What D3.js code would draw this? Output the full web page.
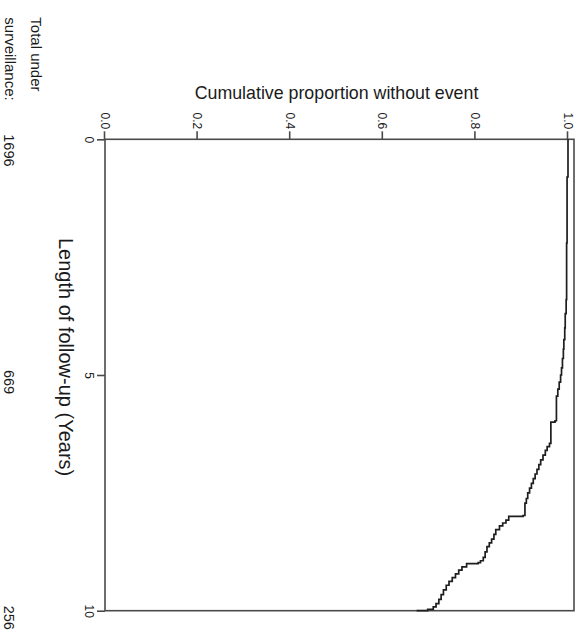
<!DOCTYPE html>
<meta charset="utf-8">
<head>
	<title>Cumulative proportion without event</title>
    <script type="text/javascript" src="https://cdnjs.cloudflare.com/ajax/libs/d3/7.8.5/d3.min.js"></script>
	<style>
        body { margin: 0; background: #fff; }
        text { font-family: 'Liberation Sans', Arial, sans-serif; fill: #1a1a1a; }
        .axis path, .axis line { stroke: #4a4a4a; stroke-width: 1.6px; }
        .axis text { font-size: 12px; }
	</style>
</head>
<body>
    <div id="chart"></div>
    <script>
        // follow-up time (years) at each step of the curve
        var stepTimes = [0, 0.8, 2.2, 3.4, 3.7, 4.0, 4.25, 4.45, 4.65, 4.85, 5.0, 5.15, 5.3, 5.45,
            5.97, 6.0, 6.45, 6.52, 6.6, 6.7, 6.8, 6.9, 7.0, 7.1, 7.2, 7.3, 7.4, 7.5, 7.62, 7.72,
            7.98, 8.0, 8.08, 8.14, 8.2, 8.28, 8.38, 8.48, 8.56, 8.64, 8.75, 8.87, 8.94, 8.98,
            9.0, 9.07, 9.14, 9.22, 9.3, 9.38, 9.46, 9.56, 9.66, 9.76, 9.85, 9.92, 9.97, 10.0];
        // cumulative proportion without event after each step
        var survival = [1.000, 0.998, 0.997, 0.996, 0.994, 0.993, 0.991, 0.990, 0.988, 0.986, 0.984, 0.981, 0.978, 0.975,
            0.972, 0.963, 0.960, 0.955, 0.951, 0.946, 0.941, 0.937, 0.933, 0.929, 0.925, 0.921, 0.917, 0.913, 0.910, 0.907,
            0.903, 0.872, 0.866, 0.859, 0.852, 0.844, 0.840, 0.835, 0.830, 0.825, 0.821, 0.817, 0.811, 0.806,
            0.781, 0.771, 0.764, 0.757, 0.750, 0.743, 0.737, 0.731, 0.726, 0.721, 0.715, 0.709, 0.697, 0.673];

        var timeTicks = [0, 5, 10];
        var propTicks = [0, 0.2, 0.4, 0.6, 0.8, 1.0];
        var riskTimes = [0, 5, 10];
        var riskCounts = [1696, 669, 256];

        var w = 583
        var h = 635
        // plot size in the unrotated chart: width = time, height = proportion
        var plotW = 471.4
        var plotH = 469

        var svg = d3.select("#chart")
                        .append("svg")
                        .attr("width", w)
                        .attr("height", h);

        // whole chart is turned 90 degrees clockwise
        var g = svg.append("g")
            .attr("transform", "translate(574,139.3) rotate(90)");

        var x = d3.scaleLinear()
            .domain([0, 10])
            .range([0, plotW]);

        var y = d3.scaleLinear()
            .domain([0, 1])
            .range([plotH, 6]);

        g.append("rect")
            .attr("x", 0)
            .attr("y", 0)
            .attr("width", plotW)
            .attr("height", plotH)
            .attr("fill", "none")
            .attr("stroke", "#4a4a4a")
            .attr("stroke-width", 1.6);

        g.append("g")
            .attr("class", "axis")
            .attr("transform", "translate(0," + plotH + ")")
            .call(d3.axisBottom(x).tickValues(timeTicks).tickFormat(d3.format("d")).tickSize(8).tickSizeOuter(0))
            .select(".domain").remove();

        g.append("g")
            .attr("class", "axis")
            .call(d3.axisLeft(y).tickValues(propTicks).tickFormat(d3.format(".1f")).tickSize(8).tickPadding(2).tickSizeOuter(0))
            .select(".domain").remove();

        var pts = stepTimes.map(function(t, i) { return [t, survival[i]]; });

        var line = d3.line()
            .x(function(d) { return x(d[0]); })
            .y(function(d) { return y(d[1]); })
            .curve(d3.curveStepAfter);

        g.append("path")
            .datum(pts)
            .attr("d", line)
            .attr("fill", "none")
            .attr("stroke", "#1e1e1e")
            .attr("stroke-width", 1.7);

        // axis titles
        g.append("text")
            .attr("transform", "translate(" + x(4.62) + "," + (plotH + 46) + ")")
            .attr("text-anchor", "middle")
            .style("font-size", "20px")
            .text("Length of follow-up (Years)");

        g.append("text")
            .attr("transform", "translate(-40.5," + y(0.5) + ") rotate(-90)")
            .attr("text-anchor", "middle")
            .style("font-size", "17.8px")
            .text("Cumulative proportion without event");

        // numbers under surveillance
        g.append("text")
            .attr("x", -122)
            .attr("y", 543.4)
            .style("font-size", "15px")
            .text("Total under");

        g.append("text")
            .attr("x", -122)
            .attr("y", 569.5)
            .style("font-size", "15px")
            .text("surveillance:");

        g.selectAll(".risk")
            .data(riskTimes)
            .enter()
            .append("text")
            .attr("class", "risk")
            .attr("x", function(d) { return x(d) - 5; })
            .attr("y", 570.2)
            .style("font-size", "14.5px")
            .text(function(d, i) { return riskCounts[i]; });
    </script>
</body>
</html>
